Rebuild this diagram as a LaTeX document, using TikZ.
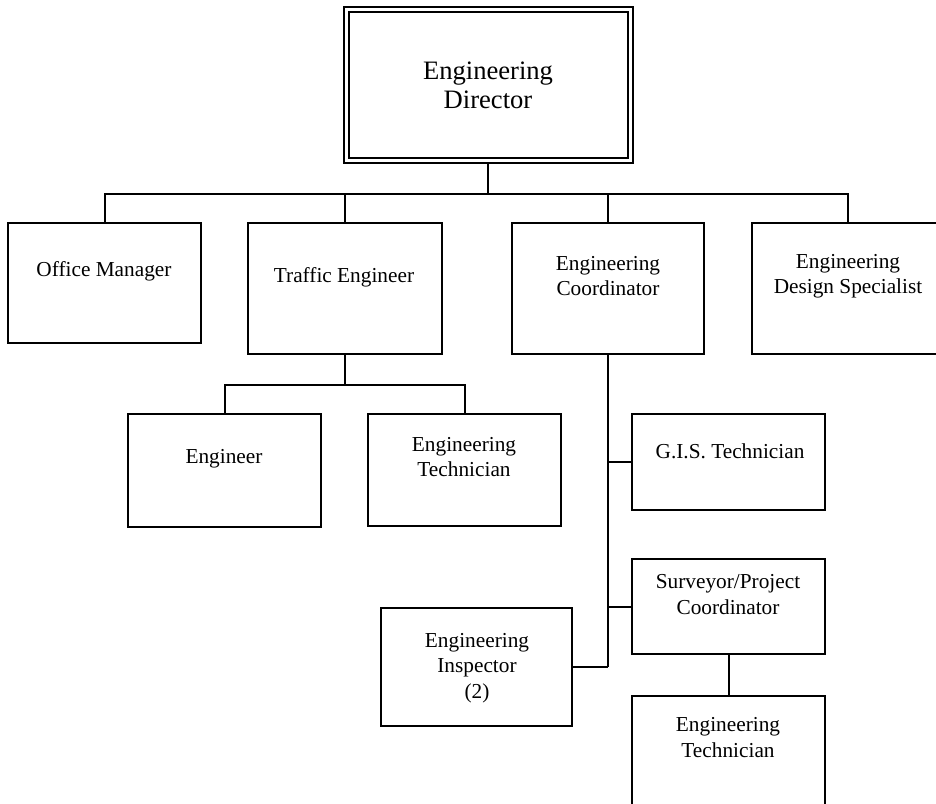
\documentclass[tikz,border=0pt]{standalone}
\usepackage{fontspec}
\setmainfont{Liberation Serif}
\usetikzlibrary{backgrounds}
\begin{document}
\begin{tikzpicture}[x=1pt,y=-1pt,
  box/.style={draw, line width=2pt, fill=white, inner sep=0pt, outer sep=0pt},
  lbl/.style={font=\fontsize{21.3}{25.5}\selectfont, align=center, inner sep=0pt},
  big/.style={font=\fontsize{26.6}{29}\selectfont, align=center},
  conn/.style={line width=2pt}]
\useasboundingbox (0,0) rectangle (936,803);
\clip (0,0) rectangle (936,803);
% director
\node[box, big, double, double distance=3pt, minimum width=284pt, minimum height=151pt] (dir) at (488,85) {Engineering\\Director};
% level 1
\node[box, minimum width=193pt, minimum height=120pt] (om) at (104.5,283) {};
\node[box, minimum width=194pt, minimum height=131pt] (te) at (345,288.5) {};
\node[box, minimum width=192pt, minimum height=131pt] (ec) at (608,288.5) {};
\node[box, minimum width=192pt, minimum height=131pt] (eds) at (848,288.5) {};
% level 2
\node[box, minimum width=193pt, minimum height=113pt] (eng) at (224.5,470.5) {};
\node[box, minimum width=193pt, minimum height=112pt] (et1) at (464.5,470) {};
\node[box, minimum width=193pt, minimum height=96pt] (gis) at (728.5,462) {};
\node[box, minimum width=193pt, minimum height=95pt] (spc) at (728.5,606.5) {};
\node[box, minimum width=191pt, minimum height=118pt] (insp) at (476.5,667) {};
\node[box, minimum width=193pt, minimum height=124pt] (et2) at (728.5,758) {};
% labels
\node[lbl] (tom) at (104,271) {Office Manager};
\node[lbl] (tte) at (344,277) {Traffic Engineer};
\node[lbl] (tec) at (608,276) {Engineering\\Coordinator};
\node[lbl] (teds) at (848,276) {Engineering\\Design Specialist};
\node[lbl] (teng) at (224,459) {Engineer};
\node[lbl] (tet1) at (464,457) {Engineering\\Technician};
\node[lbl] (tgis) at (730,451) {G.I.S. Technician};
\node[lbl] (tspc) at (728,594.5) {Surveyor/Project\\Coordinator};
\node[lbl] (tinsp) at (477,668) {Engineering\\Inspector\\(2)};
\node[lbl] (tet2) at (728,737.5) {Engineering\\Technician};
% connectors
\coordinate (bus) at (488,194);
\coordinate (tbus) at (345,385);
\begin{scope}[on background layer]
\draw[conn] (dir.south) -- (dir.south |- bus);
\draw[conn] (om.north) -- (om.north |- bus) -- (eds.north |- bus) -- (eds.north);
\draw[conn] (te.north) -- (te.north |- bus);
\draw[conn] (ec.north) -- (ec.north |- bus);
\draw[conn] (te.south) -- (te.south |- tbus);
\draw[conn] (eng.north) -- (eng.north |- tbus) -- (et1.north |- tbus) -- (et1.north);
\draw[conn] (ec.south) -- (ec.south |- insp.east);
\draw[conn] (gis.west) -- (gis.west -| ec.south);
\draw[conn] (spc.west) -- (spc.west -| ec.south);
\draw[conn] (insp.east) -- (insp.east -| ec.south);
\draw[conn] (spc.south) -- (et2.north);
\end{scope}
\end{tikzpicture}
\end{document}
